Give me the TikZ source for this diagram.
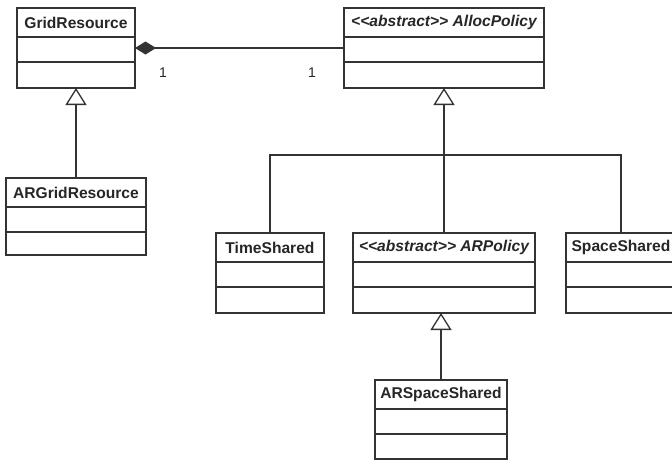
\documentclass[tikz,border=0pt]{standalone}
\usepackage{fontspec}
\setmainfont{Liberation Sans}
\usetikzlibrary{arrows.meta}
\tikzset{
  classbox/.style={draw=black!80, line width=1.3pt, fill=white, inner sep=0pt, outer sep=0pt},
  nametext/.style={font=\fontsize{15.6}{18}\selectfont\bfseries, text=black!85, inner sep=0pt},
  multtext/.style={font=\fontsize{14}{16}\selectfont, text=black!85, inner sep=0pt},
  conn/.style={draw=black!80, line width=1.3pt},
  genarrow/.style={-{Triangle[open, length=17pt, width=21pt, fill=white]}},
}
\newcommand\umlcls[6]{%
  \node[classbox, minimum width={#3-#2}, minimum height={#5-#4}] (#1) at ({(#2+#3)/2},{(#4+#5)/2}) {};
  \draw[conn] ([yshift=-29pt]#1.north west) -- ([yshift=-29pt]#1.north east);
  \draw[conn] ([yshift=-54pt]#1.north west) -- ([yshift=-54pt]#1.north east);
  \node[nametext] (#1-name) at ([yshift=-14.5pt]#1.north) {#6};
}
\newcommand\stereo{{<}{<}abstract{>}{>}}
\begin{document}
\begin{tikzpicture}[x=1pt, y=-1pt]
\useasboundingbox (0,0) rectangle (672,461);
\clip (0,0) rectangle (672,461);
\fill[white] (0,0) rectangle (672,461);

\umlcls{gr}{17}{135}{8}{88}{GridResource}
\umlcls{ap}{344}{544}{8}{88}{\itshape \stereo\ AllocPolicy}
\umlcls{argr}{6}{146}{178}{255}{ARGridResource}
\umlcls{ts}{216}{324}{233}{313}{TimeShared}
\umlcls{arp}{353}{535}{233}{313}{\itshape \stereo\ ARPolicy}
\umlcls{ss}{566}{676}{233}{313}{SpaceShared}
\umlcls{ass}{375}{507}{380}{459}{ARSpaceShared}

% composition
\draw[conn, {Diamond[length=21pt, width=13pt]}-] (gr.east) -- (ap.west);
\node[multtext] (m1) at (163,73) {1};
\node[multtext] (m2) at (312,73) {1};

% generalizations
\draw[conn, genarrow] (argr.north) -- (argr.north |- gr.south);
\coordinate (j) at (444,155);
\draw[conn] (ts.north) |- (j) -| (ss.north);
\draw[conn, genarrow] (arp.north) -- (ap.south);
\draw[conn, genarrow] (ass.north) -- (ass.north |- arp.south);
\end{tikzpicture}
\end{document}
